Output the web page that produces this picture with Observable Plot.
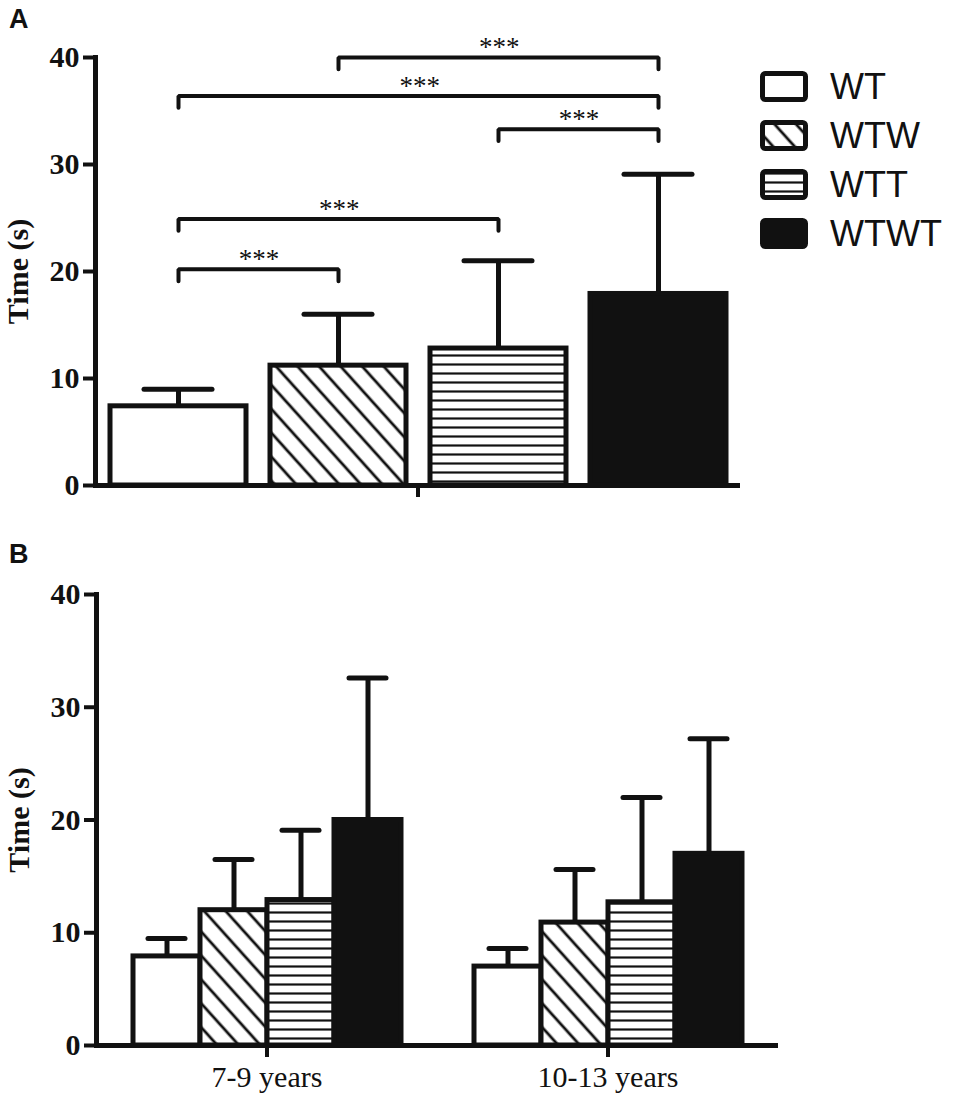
<!DOCTYPE html>
<html>
<head>
<meta charset="utf-8">
<script src="https://cdn.jsdelivr.net/npm/d3@7"></script>
<script src="https://cdn.jsdelivr.net/npm/@observablehq/plot@0.6"></script>
<style>
  body { margin: 0; background: #fff; }
  #wrap { position: relative; width: 975px; height: 1100px; overflow: hidden; }
  .panel { position: absolute; left: 0; }
  .letter { position: absolute; left: 9px; font-family: "Liberation Sans", Arial, sans-serif; font-weight: bold; font-size: 27px; line-height: 27px; color: #111; }
  #legend { position: absolute; left: 760px; top: 62px; font-family: "Liberation Sans", Arial, sans-serif; font-size: 36px; color: #111; }
  .row { display: flex; align-items: center; height: 49px; }
  .row svg { margin-right: 22px; display: block; }
</style>
</head>
<body>
<svg width="0" height="0" style="position:absolute">
  <defs>
    <pattern id="diag" patternUnits="userSpaceOnUse" width="16" height="16" patternTransform="rotate(-42)">
      <rect width="16" height="16" fill="white"></rect>
      <line x1="8" y1="-1" x2="8" y2="17" stroke="#111" stroke-width="2.8"></line>
    </pattern>
    <pattern id="horiz" patternUnits="userSpaceOnUse" width="10" height="9">
      <rect width="10" height="9" fill="white"></rect>
      <line x1="-1" y1="4.5" x2="11" y2="4.5" stroke="#111" stroke-width="2.2"></line>
    </pattern>
  </defs>
</svg>
<div id="wrap">
  <div class="letter" style="top:6px">A</div>
  <div class="letter" style="top:541px">B</div>
  <div id="panelA" class="panel" style="top:0px"></div>
  <div id="panelB" class="panel" style="top:530px"></div>
  <div id="legend"></div>
</div>
<script>
// ---------- data ----------
const categories = ["WT", "WTW", "WTT", "WTWT"];
// Panel A: all participants
const meanA  = [7.4, 11.2, 12.8, 17.9];
const upperA = [9.0, 16.0, 21.0, 29.1];
// Panel B: by age group
const ageGroups = ["7-9 years", "10-13 years"];
const meanB79    = [7.9, 12.0, 12.9, 20.0];
const upperB79   = [9.5, 16.5, 19.1, 32.6];
const meanB1013  = [7.0, 10.9, 12.7, 17.0];
const upperB1013 = [8.6, 15.6, 22.0, 27.2];
const yTicks = [0, 10, 20, 30, 40];
const yLabel = "Time (s)";
// significance comparisons (panel A)
const compFrom  = ["WT", "WT", "WTT", "WT", "WTW"];
const compTo    = ["WTW", "WTT", "WTWT", "WTWT", "WTWT"];
const compLevel = [20.2, 24.9, 33.3, 36.4, 40.0];
const compText  = ["***", "***", "***", "***", "***"];

// ---------- styles ----------
const fills = ["white", "url(#diag)", "url(#horiz)", "#111"];
const INK = "#111";
const SERIF = "Liberation Serif, Times New Roman, serif";
const drop = 1.1;

// ---------- tables ----------
const rowsA = categories.map((c, i) => ({cat: c, mean: meanA[i], upper: upperA[i], grp: ""}));
const rowsB = [
  ...categories.map((c, i) => ({cat: c, mean: meanB79[i], upper: upperB79[i], grp: ageGroups[0]})),
  ...categories.map((c, i) => ({cat: c, mean: meanB1013[i], upper: upperB1013[i], grp: ageGroups[1]}))
];
const comps = compFrom.map((f, i) => ({id: i, from: f, to: compTo[i], y: compLevel[i], text: compText[i]}));
const compPath = comps.flatMap(b => [
  {id: b.id, cat: b.from, y: b.y - drop},
  {id: b.id, cat: b.from, y: b.y},
  {id: b.id, cat: b.to, y: b.y},
  {id: b.id, cat: b.to, y: b.y - drop}
]);

const color = {type: "ordinal", domain: categories, range: fills};

function commonMarks(rows, capInset) {
  return [
    Plot.frame({anchor: "left", stroke: INK, strokeWidth: 5, facetAnchor: "left"}),
    Plot.ruleX(rows, {fx: "grp", x: "cat", y1: "mean", y2: "upper", stroke: INK, strokeWidth: 5}),
    Plot.tickY(rows, {fx: "grp", x: "cat", y: "upper", stroke: INK, strokeWidth: 5, strokeLinecap: "round", insetLeft: capInset, insetRight: capInset}),
    Plot.barY(rows, {fx: "grp", x: "cat", y: "mean", fill: "cat", stroke: INK, strokeWidth: 5}),
    Plot.ruleY([0], {stroke: INK, strokeWidth: 5}),
    Plot.axisY({ticks: yTicks, tickSize: 12, tickPadding: 4, stroke: INK, strokeWidth: 4, fill: INK,
      fontSize: 30, fontWeight: "bold", fontFamily: SERIF, label: null}),
    Plot.text([yLabel], {frameAnchor: "left", rotate: -90, dx: -77, lineAnchor: "middle", textAnchor: "middle",
      fontSize: 30, fontWeight: "bold", fontFamily: SERIF, fill: INK, facetAnchor: "left"}),
    Plot.axisFx({anchor: "bottom", tickSize: 12, tickPadding: 8, stroke: INK, strokeWidth: 4, fill: INK,
      fontSize: 30, fontFamily: SERIF, label: null})
  ];
}

// ---------- Panel A ----------
const WIDTH = 975;
const mlA = 95, mrA = 235;
const xOptsA = {type: "band", domain: categories, paddingInner: 0.15, paddingOuter: 0.08};
const xScaleA = Plot.scale({x: {...xOptsA, range: [mlA, WIDTH - mrA]}});
const starMarks = comps.map(b => Plot.text([b], {
  x: "from", y: "y", text: "text",
  dx: (xScaleA.apply(b.to) - xScaleA.apply(b.from)) / 2, dy: -10,
  fontSize: 27, fontFamily: SERIF, fill: INK, lineAnchor: "middle"
}));

const plotA = Plot.plot({
  width: WIDTH, height: 520,
  marginLeft: mlA, marginRight: mrA, marginTop: 57, marginBottom: 35,
  style: {color: INK, background: "transparent", overflow: "visible"},
  x: {...xOptsA, axis: null},
  fx: {domain: [""], padding: 0},
  y: {domain: [0, 40]},
  color,
  marks: [
    ...commonMarks(rowsA, 34),
    Plot.line(compPath, {x: "cat", y: "y", z: "id", stroke: INK, strokeWidth: 4, strokeLinecap: "round", strokeLinejoin: "miter"}),
    ...starMarks
  ]
});
document.getElementById("panelA").appendChild(plotA);

// ---------- Panel B ----------
const plotB = Plot.plot({
  width: WIDTH, height: 570,
  marginLeft: 95, marginRight: 197, marginTop: 64, marginBottom: 55,
  style: {color: INK, background: "transparent", overflow: "visible"},
  x: {type: "band", domain: categories, paddingInner: 0, paddingOuter: 0.51, axis: null},
  fx: {domain: ageGroups, padding: 0},
  y: {domain: [0, 40]},
  color,
  marks: commonMarks(rowsB, 15)
});
document.getElementById("panelB").appendChild(plotB);

// ---------- Legend ----------
const legend = document.getElementById("legend");
categories.forEach((c, i) => {
  const row = document.createElement("div");
  row.className = "row";
  row.innerHTML = `<svg width="48" height="31"><rect x="2.5" y="2.5" width="43" height="26" rx="3" fill="${fills[i]}" stroke="${INK}" stroke-width="5"></rect></svg><span>${c}</span>`;
  legend.appendChild(row);
});
</script>
</body>
</html>
